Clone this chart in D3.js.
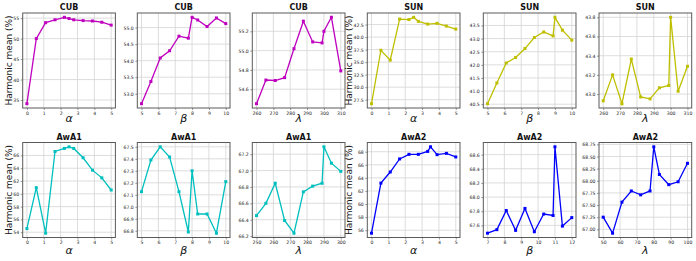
<!DOCTYPE html>
<html><head><meta charset="utf-8">
<script src="https://cdn.jsdelivr.net/npm/d3@7"></script>
<style>body{margin:0;background:#fff}svg{display:block}</style>
</head><body><svg id="c" width="696" height="261"></svg>
<script>
// ---- data ----
const cubAlphaX = [0,0.556,1.111,1.667,2.222,2.5,2.778,3.333,3.889,4.444,5];
const cubAlphaY = [34.1,50.0,53.9,54.6,55.2,54.9,54.6,54.4,54.3,54.0,53.3];
const cubBetaX = [5,5.556,6.111,6.667,7.222,7.778,8,8.333,8.889,9.444,10];
const cubBetaY = [52.70,53.37,54.08,54.30,54.74,54.68,55.31,55.23,55.03,55.29,55.12];
const cubLambdaX = [260,265.56,271.11,276.67,282.22,287.78,293.33,298.89,300,304.44,310];
const cubLambdaY = [54.45,54.695,54.69,54.72,55.02,55.305,55.09,55.08,55.2,55.345,54.79];
const sunAlphaX = cubAlphaX;
const sunAlphaY = [26.7,37.37,35.4,43.6,43.5,43.95,43.15,42.6,42.75,42.2,41.6];
const sunBetaX = [5,5.556,6.111,6.667,7.222,7.778,8.333,8.889,9,9.444,10];
const sunBetaY = [40.52,41.31,42.07,42.28,42.62,43.04,43.25,43.10,43.81,43.32,42.94];
const sunLambdaX = cubLambdaX;
const sunLambdaY = [42.93,43.2,42.9,43.365,42.97,42.95,43.065,43.09,43.8,43.03,43.29];
const awa1AlphaX = cubAlphaX;
const awa1AlphaY = [54.57,60.96,53.85,66.62,67.1,67.35,67.1,65.64,63.7,62.5,60.6];
const awa1BetaX = cubBetaX;
const awa1BetaY = [67.126,67.39,67.5,67.415,67.126,66.79,67.3,66.94,66.94,66.78,67.21];
const awa1LambdaX = [250,255.56,261.11,266.67,272.22,277.78,283.33,288.89,290,294.44,300];
const awa1LambdaY = [66.45,66.6,66.845,66.39,66.235,66.74,66.81,66.845,67.29,67.09,66.99];
const awa2AlphaX = [0,0.556,1.111,1.667,2.222,2.778,3.333,3.5,3.889,4.444,5];
const awa2AlphaY = [55.55,63.2,64.9,66.9,67.6,67.6,68.05,68.75,67.55,67.75,67.2];
const awa2BetaX = [7,7.556,8.111,8.667,9.222,9.778,10.333,10.889,11,11.444,12];
const awa2BetaY = [67.49,67.54,67.81,67.53,67.84,67.51,67.76,67.74,68.71,67.59,67.71];
const awa2LambdaX = [50,55.56,61.11,66.67,72.22,77.78,80,83.33,88.89,94.44,100];
const awa2LambdaY = [67.25,66.92,67.56,67.79,67.71,67.79,68.70,68.13,67.92,67.98,68.36];

const titles = ["CUB","CUB","CUB","SUN","SUN","SUN","AwA1","AwA1","AwA1","AwA2","AwA2","AwA2"];
const xLabels = ["α","β","λ","α","β","λ","α","β","λ","α","β","λ"];
const xTicks = [
  [0,1,2,3,4,5],[5,6,7,8,9,10],[260,270,280,290,300,310],
  [0,1,2,3,4,5],[5,6,7,8,9,10],[260,270,280,290,300,310],
  [0,1,2,3,4,5],[5,6,7,8,9,10],[250,260,270,280,290,300],
  [0,1,2,3,4,5],[7,8,9,10,11,12],[50,60,70,80,90,100]];
const yTicks = [
  [35,40,45,50,55],[53.0,53.5,54.0,54.5,55.0],[54.6,54.8,55.0,55.2],
  [27.5,30.0,32.5,35.0,37.5,40.0,42.5],[40.5,41.0,41.5,42.0,42.5,43.0,43.5],[43.0,43.2,43.4,43.6,43.8],
  [54,56,58,60,62,64,66],[66.8,66.9,67.0,67.1,67.2,67.3,67.4,67.5],[66.2,66.4,66.6,66.8,67.0,67.2],
  [56,58,60,62,64,66,68],[67.6,67.8,68.0,68.2,68.4,68.6],[67.00,67.25,67.50,67.75,68.00,68.25,68.50,68.75]];
const yFormats = ["d",".1f",".1f",".1f",".1f",".1f","d",".1f",".1f","d",".1f",".2f"];
const seriesX = [cubAlphaX,cubBetaX,cubLambdaX,sunAlphaX,sunBetaX,sunLambdaX,awa1AlphaX,awa1BetaX,awa1LambdaX,awa2AlphaX,awa2BetaX,awa2LambdaX];
const seriesY = [cubAlphaY,cubBetaY,cubLambdaY,sunAlphaY,sunBetaY,sunLambdaY,awa1AlphaY,awa1BetaY,awa1LambdaY,awa2AlphaY,awa2BetaY,awa2LambdaY];
const colors = ["#bf00bf","#bf00bf","#bf00bf","#bfbf00","#bfbf00","#bfbf00","#00bfbf","#00bfbf","#00bfbf","#0000ff","#0000ff","#0000ff"];
const yLabelText = "Harmonic mean (%)";

// ---- layout ----
const colLefts = [22.7,137.3,252.3,367.3,483.3,599];
const rowTops = [13,142.5];
const pw = 92.7, ph = 95;
const titleBase = [10,139.5];
const xlabBase = [122,253.5];
const ylabX = [8.5,348.5];

const svg = d3.select("#c");

function padded(ext){const r=ext[1]-ext[0];return [ext[0]-0.05*r, ext[1]+0.05*r];}

for(let i=0;i<12;i++){
  const r = Math.floor(i/6), c = i%6;
  const L = colLefts[c], T = rowTops[r];
  const g = svg.append("g").attr("transform",`translate(${L},${T})`);
  const x = d3.scaleLinear().domain(padded(d3.extent(seriesX[i]))).range([0,pw]);
  const y = d3.scaleLinear().domain(padded(d3.extent(seriesY[i]))).range([ph,0]);
  // grid
  g.append("g").selectAll("line").data(xTicks[i]).join("line")
    .attr("x1",d=>x(d)).attr("x2",d=>x(d)).attr("y1",0).attr("y2",ph)
    .attr("stroke","#d4d4d4").attr("stroke-width",0.8);
  g.append("g").selectAll("line").data(yTicks[i]).join("line")
    .attr("y1",d=>y(d)).attr("y2",d=>y(d)).attr("x1",0).attr("x2",pw)
    .attr("stroke","#d4d4d4").attr("stroke-width",0.8);
  // axes
  const xa = d3.axisBottom(x).tickValues(xTicks[i]).tickFormat(d3.format("d")).tickSize(2).tickPadding(1.5);
  const ya = d3.axisLeft(y).tickValues(yTicks[i]).tickFormat(d3.format(yFormats[i])).tickSize(2).tickPadding(1.5);
  const gx = g.append("g").attr("transform",`translate(0,${ph})`).call(xa);
  const gy = g.append("g").call(ya);
  [gx,gy].forEach(a=>{
    a.select(".domain").remove();
    a.selectAll("line").attr("stroke","#555").attr("stroke-width",0.6);
    a.selectAll("text").attr("font-family","DejaVu Sans").attr("font-size",4.6).attr("fill","#222");
  });
  // line + markers
  const pts = seriesX[i].map((v,k)=>[v,seriesY[i][k]]);
  g.append("path").datum(pts)
    .attr("d",d3.line().x(d=>x(d[0])).y(d=>y(d[1])))
    .attr("fill","none").attr("stroke",colors[i]).attr("stroke-width",1.3);
  g.append("g").selectAll("rect").data(pts).join("rect")
    .attr("x",d=>x(d[0])-1.5).attr("y",d=>y(d[1])-1.5).attr("width",3).attr("height",3)
    .attr("fill",colors[i]);
  // frame
  g.append("rect").attr("x",0).attr("y",0).attr("width",pw).attr("height",ph)
    .attr("fill","none").attr("stroke","#5a5a5a").attr("stroke-width",1);
  // title
  svg.append("text").attr("x",L+pw/2).attr("y",titleBase[r]).attr("text-anchor","middle")
    .attr("font-family","DejaVu Sans").attr("font-weight","bold").attr("font-size",8)
    .attr("fill","#111").text(titles[i]);
  // x label
  svg.append("text").attr("x",L+pw/2).attr("y",xlabBase[r]).attr("text-anchor","middle")
    .attr("font-family","DejaVu Sans").attr("font-style","italic").attr("font-size",11)
    .attr("fill","#111").text(xLabels[i]);
  // y label
  if(c===0 || c===3){
    const lx = ylabX[c===0?0:1], ly = T+ph/2;
    svg.append("text").attr("transform",`translate(${lx},${ly}) rotate(-90)`)
      .attr("text-anchor","middle").attr("dominant-baseline","central")
      .attr("font-family","DejaVu Sans").attr("font-size",9).attr("fill","#111")
      .text(yLabelText);
  }
}
</script></body></html>
